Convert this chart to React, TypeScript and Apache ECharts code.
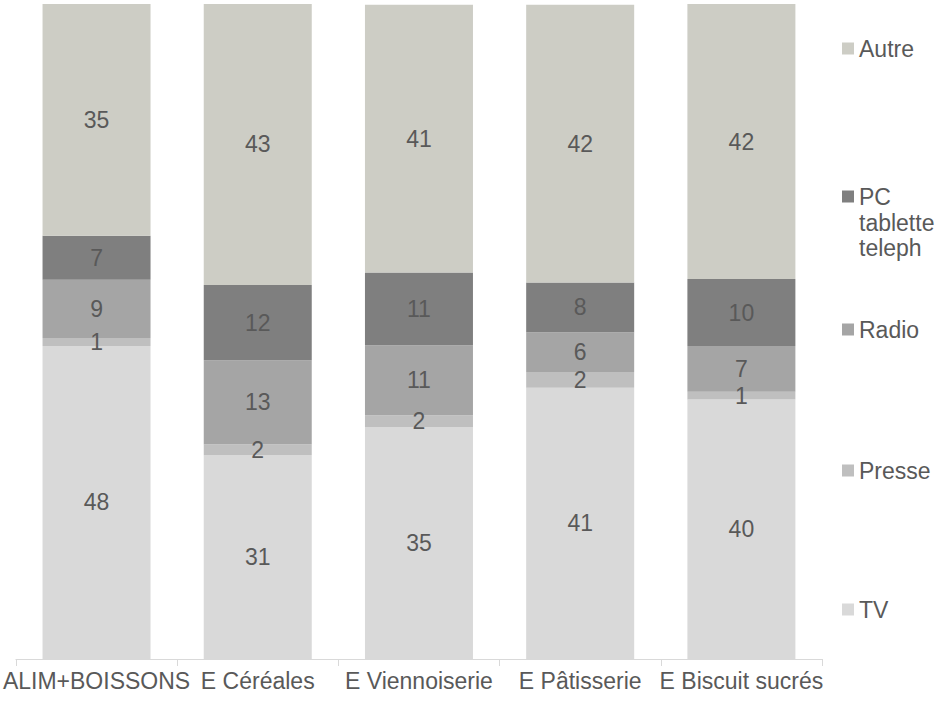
import React, { useEffect, useRef } from "react";
import * as echarts from "echarts";

const categories = ["ALIM+BOISSONS", "E Céréales", "E Viennoiserie", "E Pâtisserie", "E Biscuit sucrés"];
const tvValues = [47.8, 31.1, 35.4, 41.4, 39.6];
const presseValues = [1.2, 1.7, 1.8, 2.4, 1.2];
const radioValues = [8.9, 12.8, 10.7, 6.1, 7.0];
const pcValues = [6.7, 11.5, 11.1, 7.6, 10.2];
const autreValues = [35.4, 42.9, 40.9, 42.4, 42.0];

const seriesNames = ["TV", "Presse", "Radio", "PC tablette teleph", "Autre"];
const seriesColors = ["#d9d9d9", "#bfbfbf", "#a5a5a5", "#7f7f7f", "#cdcdc5"];
const seriesData = [tvValues, presseValues, radioValues, pcValues, autreValues];

const legendOrder = ["Autre", "PC tablette teleph", "Radio", "Presse", "TV"];
const legendTops = [37, 185, 318, 459, 598];

const FONT = "Liberation Sans, Arial, sans-serif";
const TEXT_COLOR = "#595959";
const FS = 23;

export default function App() {
  const ref = useRef<HTMLDivElement>(null);
  useEffect(() => {
    if (!ref.current) return;
    const chart = echarts.init(ref.current, null, { renderer: "svg" });
    chart.setOption({
      animation: false,
      textStyle: { fontFamily: FONT },
      grid: { left: 15, right: 115, top: 4, bottom: 45, containLabel: false },
      xAxis: {
        type: "category",
        data: categories,
        axisLine: { lineStyle: { color: "#d9d9d9", width: 1 } },
        axisTick: { show: true, length: 7, lineStyle: { color: "#d9d9d9" } },
        axisLabel: { color: TEXT_COLOR, fontSize: FS, fontFamily: FONT, margin: 10, interval: 0 },
      },
      yAxis: {
        type: "value",
        min: 0,
        max: 100,
        show: false,
        splitLine: { show: false },
      },
      legend: legendOrder.map((name, i) => ({
        data: [name],
        orient: "vertical",
        left: 842,
        top: legendTops[i],
        padding: 0,
        itemWidth: 12,
        itemHeight: 12,
        itemGap: 5,
        icon: "rect",
        selectedMode: false,
        formatter: (n: string) => (n === "PC tablette teleph" ? "PC" : n),
        textStyle: { color: TEXT_COLOR, fontSize: FS, fontFamily: FONT, lineHeight: 22 },
      })),
      graphic: [
        {
          type: "text",
          left: 859,
          top: 210,
          style: {
            text: "tablette\nteleph",
            fill: TEXT_COLOR,
            fontSize: FS,
            fontFamily: FONT,
            lineHeight: 25.5,
          },
        },
      ],
      series: seriesNames.map((name, i) => ({
        name,
        type: "bar",
        stack: "total",
        barWidth: 108,
        data: seriesData[i],
        itemStyle: { color: seriesColors[i] },
        label: {
          show: true,
          position: "inside",
          color: TEXT_COLOR,
          fontSize: FS,
          fontFamily: FONT,
          formatter: (p: any) => String(Math.round(p.value)),
        },
        labelLayout: { hideOverlap: false },
      })),
    });
    return () => chart.dispose();
  }, []);
  return <div ref={ref} style={{ width: 937, height: 704, position: "absolute", left: 0, top: 0 }} />;
}
